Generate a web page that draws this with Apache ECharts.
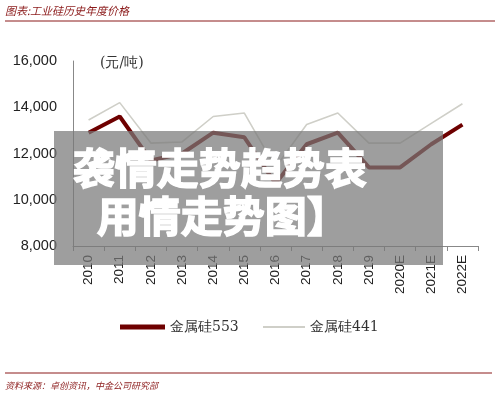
<!DOCTYPE html>
<html>
<head>
<meta charset="utf-8">
<script src="https://cdn.jsdelivr.net/npm/echarts@6/dist/echarts.min.js"></script>
<style>
  html, body { margin: 0; padding: 0; background: #fff; }
  #chart { width: 500px; height: 398px; }
</style>
</head>
<body>
<div id="chart"></div>
<script>
// 年份
const years = ['2010', '2011', '2012', '2013', '2014', '2015', '2016', '2017', '2018', '2019', '2020E', '2021E', '2022E']
// 金属硅553 (元/吨)
const si553 = [12900, 13600, 11700, 12000, 12900, 12700, 10700, 12400, 12900, 11400, 11400, 12400, 13250]
// 金属硅441 (元/吨)
const si441 = [13450, 14200, 12450, 12500, 13600, 13750, 11400, 13250, 13750, 12450, 12450, 13300, 14150]

const red = '#8b1a1a'
const legendText = { fontFamily: 'DejaVu Serif, serif', fontSize: 14, color: '#333' }
const chart = echarts.init(document.getElementById('chart'))
chart.setOption({
  animation: false,
  grid: { left: 73, right: 22, top: 61, bottom: 152 },
  legend: [
    {
      left: 120, top: 320, padding: 0,
      itemWidth: 45, itemHeight: 5, itemGap: 0,
      icon: 'rect',
      textStyle: legendText,
      data: ['金属硅553']
    },
    {
      left: 263, top: 320, padding: 0,
      itemWidth: 42, itemHeight: 2, itemGap: 0,
      icon: 'rect',
      textStyle: legendText,
      data: ['金属硅441']
    }
  ],
  xAxis: {
    type: 'category',
    data: years,
    axisLine: { lineStyle: { color: '#888' } },
    axisTick: { show: true, length: 5, lineStyle: { color: '#888' } },
    axisLabel: { rotate: 90, fontSize: 13.5, color: '#222', margin: 9, fontFamily: 'Liberation Sans, sans-serif' }
  },
  yAxis: {
    type: 'value',
    min: 8000,
    max: 16000,
    interval: 2000,
    splitLine: { show: false },
    axisLine: { show: true, lineStyle: { color: '#888' } },
    axisLabel: {
      fontSize: 14.5, color: '#222', margin: 16, fontFamily: 'Liberation Sans, sans-serif',
      formatter: v => v.toLocaleString('en-US')
    }
  },
  series: [
    {
      name: '金属硅553',
      type: 'line',
      data: si553,
      symbol: 'none',
      z: 3,
      lineStyle: { color: '#6e0000', width: 4 },
      itemStyle: { color: '#6e0000' }
    },
    {
      name: '金属硅441',
      type: 'line',
      data: si441,
      symbol: 'none',
      z: 2,
      lineStyle: { color: '#cfcfc8', width: 1.6 },
      itemStyle: { color: '#cfcfc8' }
    }
  ],
  graphic: [
    { type: 'text', left: 5, top: 5, z: 10,
      style: { text: '图表:工业硅历史年度价格', fill: red, font: 'italic 11px "Noto Sans CJK SC"' } },
    { type: 'line', z: 10, shape: { x1: 5, y1: 21, x2: 495, y2: 21 }, style: { stroke: red, lineWidth: 1 } },
    { type: 'text', left: 100, top: 56, z: 10,
      style: { text: '(元/吨)', fill: '#333', font: '14px "DejaVu Serif", serif' } },
    { type: 'line', z: 10, shape: { x1: 5, y1: 373, x2: 492, y2: 373 }, style: { stroke: red, lineWidth: 1 } },
    { type: 'text', left: 5, top: 381, z: 10,
      style: { text: '资料来源：卓创资讯，中金公司研究部', fill: red, font: 'italic 9px "Noto Sans CJK SC"' } },
    { type: 'rect', z: 20, shape: { x: 54, y: 131, width: 389, height: 134 },
      style: { fill: 'rgba(120,120,120,0.72)' } },
    { type: 'text', left: 72, top: 146, z: 21,
      style: { text: '袭情走势趋势表', fill: '#fff', stroke: '#fff', lineWidth: 1.5, font: 'bold 42px "Noto Sans CJK SC"' } },
    { type: 'text', left: 96, top: 194, z: 21,
      style: { text: '用情走势图】', fill: '#fff', stroke: '#fff', lineWidth: 1.5, font: 'bold 42px "Noto Sans CJK SC"' } }
  ]
})
</script>
</body>
</html>
